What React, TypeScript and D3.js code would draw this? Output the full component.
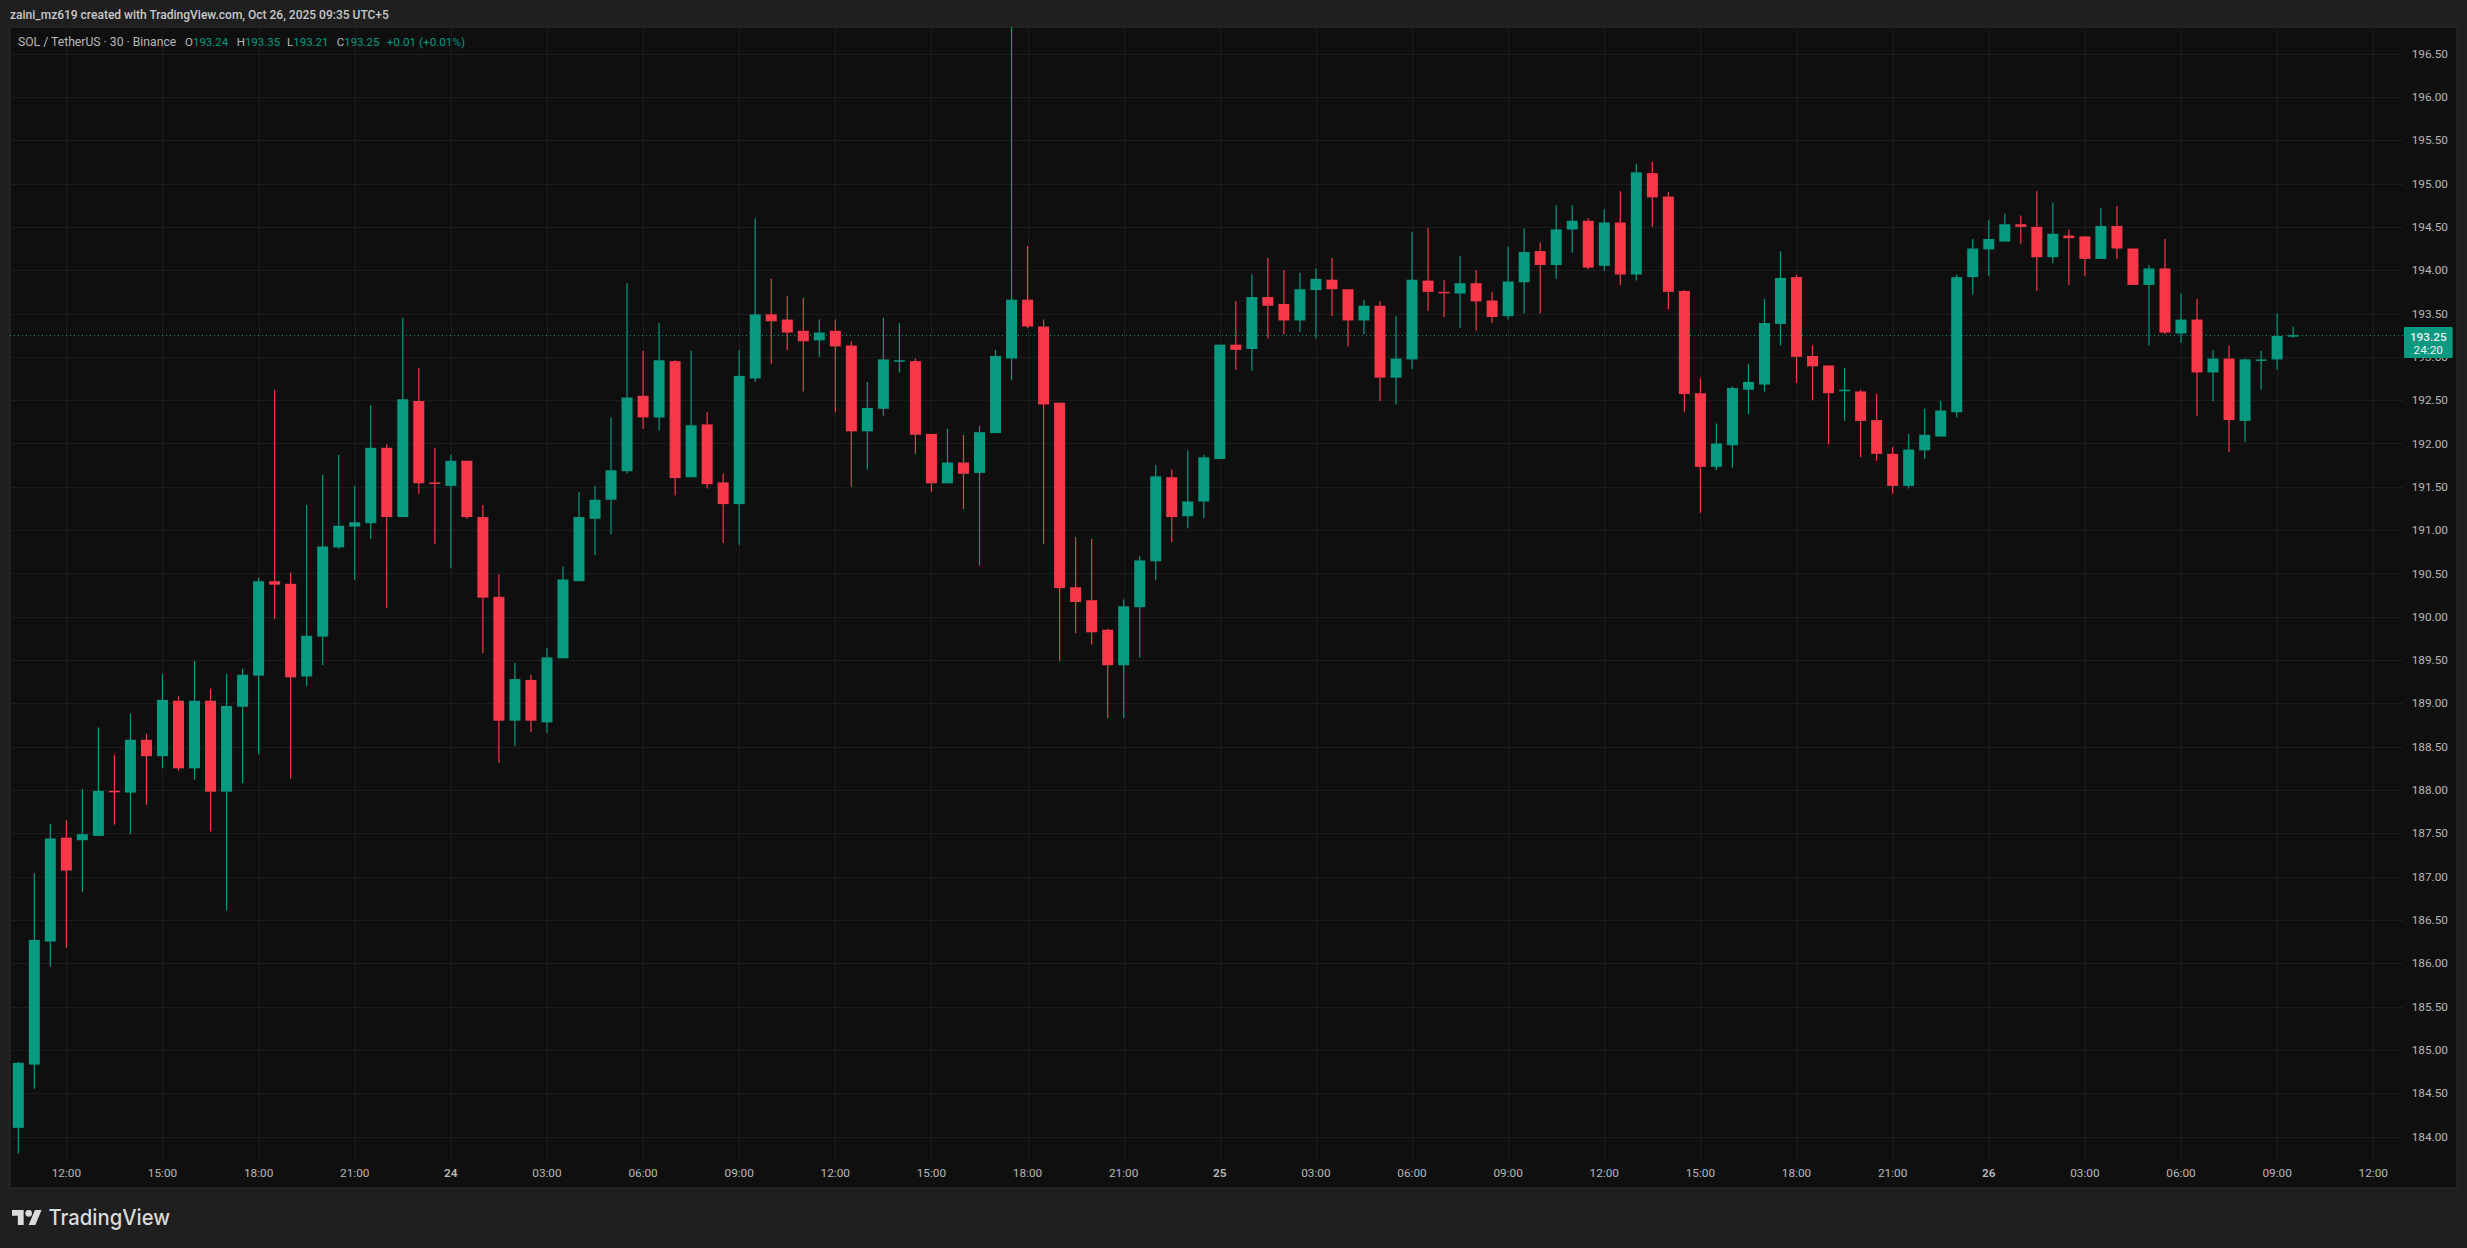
import React from "react";
import * as d3 from "d3";

const opens = [184.10,184.83,186.25,187.45,187.42,187.47,187.99,187.97,188.58,188.39,
189.03,188.25,189.03,187.98,188.96,189.32,190.41,190.38,189.31,189.77,
190.80,191.04,191.08,191.95,191.15,192.49,191.55,191.51,191.80,191.15,
190.23,188.80,189.27,188.78,189.52,190.41,191.13,191.35,191.68,192.55,
192.30,192.95,191.61,192.22,191.55,191.30,192.75,193.49,193.43,193.30,
193.19,193.30,193.13,192.14,192.40,192.95,192.95,192.11,191.54,191.78,
191.66,192.12,192.98,193.66,193.35,192.47,190.34,190.19,189.85,189.44,
190.11,190.64,191.61,191.16,191.33,191.82,193.14,193.09,193.69,193.61,
193.42,193.77,193.89,193.78,193.42,193.59,192.76,192.97,193.88,193.75,
193.73,193.85,193.65,193.47,193.86,194.22,194.06,194.47,194.57,194.05,
194.55,193.95,195.12,194.85,193.76,192.58,191.73,191.98,192.62,192.68,
193.38,193.92,193.01,192.90,192.61,192.60,192.27,191.88,191.51,191.92,
192.08,192.36,193.92,194.24,194.33,194.53,194.50,194.15,194.40,194.39,
194.13,194.51,194.25,193.83,194.02,193.27,193.43,192.82,192.98,192.26,
192.96,192.97,193.24];
const highs = [184.86,187.04,187.61,187.65,188.01,188.72,188.40,188.88,188.65,189.34,
189.08,189.49,189.17,189.34,189.40,190.45,192.62,190.51,191.29,191.64,
191.87,191.51,192.44,191.99,193.45,192.87,191.95,191.87,191.80,191.29,
190.49,189.47,189.33,189.64,190.58,191.44,191.51,192.30,193.85,193.07,
193.39,192.96,193.07,192.36,191.65,193.08,194.60,193.90,193.70,193.68,
193.43,193.43,193.18,192.71,193.45,193.39,192.98,192.11,192.17,192.10,
192.20,193.08,197.00,194.28,193.43,192.47,190.92,190.90,189.86,190.20,
190.70,191.75,191.70,191.92,191.87,193.14,193.64,193.95,194.14,194.00,
193.97,194.02,194.14,193.78,193.66,193.64,193.47,194.44,194.49,193.89,
194.16,194.00,193.75,194.27,194.48,194.32,194.75,194.75,194.60,194.70,
194.91,195.23,195.25,194.90,193.77,192.75,192.23,192.66,192.92,193.67,
194.22,193.95,193.13,192.90,192.87,192.62,192.57,191.96,192.11,192.40,
192.49,193.95,194.36,194.58,194.65,194.63,194.91,194.78,194.47,194.39,
194.72,194.74,194.25,194.06,194.36,193.73,193.67,193.08,193.13,192.98,
193.07,193.50,193.35];
const lows = [183.80,184.55,185.96,186.18,186.82,187.47,187.60,187.49,187.83,188.25,
188.22,188.12,187.52,186.61,188.08,188.41,189.97,188.13,189.20,189.44,
190.78,190.42,190.90,190.10,191.15,191.42,190.84,190.56,191.13,189.58,
188.31,188.51,188.67,188.66,189.52,190.41,190.71,190.95,191.65,192.17,
192.15,191.40,191.61,191.48,190.85,190.83,192.71,192.92,193.08,192.60,
193.00,192.36,191.50,191.70,192.32,192.82,191.88,191.44,191.54,191.24,
190.59,192.12,192.73,193.33,190.84,189.49,189.81,189.68,188.83,188.83,
189.53,190.42,190.86,191.02,191.14,191.82,192.85,192.84,193.21,193.26,
193.29,193.21,193.47,193.12,193.26,192.49,192.45,192.86,193.53,193.46,
193.33,193.30,193.39,193.43,193.50,193.50,193.90,194.20,194.01,193.99,
193.83,193.88,194.50,193.55,192.36,191.20,191.69,191.72,192.34,192.60,
193.13,192.70,192.50,191.99,192.26,191.84,191.80,191.42,191.48,191.82,
192.08,192.30,193.72,193.93,194.33,194.30,193.76,194.08,193.83,193.93,
194.13,194.13,193.83,193.13,193.26,193.16,192.32,192.49,191.90,192.02,
192.62,192.85,193.22];
const closes = [184.85,186.27,187.44,187.07,187.49,187.99,187.98,188.58,188.39,189.04,
188.25,189.03,187.98,188.97,189.33,190.41,190.37,189.30,189.78,190.81,
191.05,191.09,191.95,191.15,192.51,191.54,191.54,191.80,191.15,190.22,
188.80,189.28,188.80,189.53,190.43,191.15,191.35,191.69,192.53,192.30,
192.96,191.60,192.21,191.53,191.30,192.78,193.49,193.41,193.28,193.18,
193.28,193.12,192.14,192.41,192.97,192.96,192.10,191.54,191.78,191.65,
192.13,193.01,193.66,193.35,192.45,190.33,190.17,189.82,189.44,190.12,
190.65,191.62,191.15,191.33,191.84,193.14,193.08,193.69,193.59,193.42,
193.78,193.90,193.78,193.42,193.59,192.76,192.98,193.89,193.75,193.74,
193.85,193.64,193.46,193.87,194.21,194.06,194.47,194.57,194.03,194.55,
193.95,195.13,194.84,193.75,192.57,191.73,192.00,192.64,192.71,193.39,
193.91,193.00,192.89,192.58,192.62,192.26,191.88,191.51,191.93,192.10,
192.38,193.92,194.25,194.36,194.53,194.50,194.15,194.42,194.37,194.13,
194.51,194.25,193.83,194.02,193.28,193.43,192.82,192.98,192.27,192.97,
192.97,193.24,193.25];

const priceTicks = d3.range(0, 26).map((k) => 184 + k * 0.5);
const timeLabels = ["12:00","15:00","18:00","21:00","24","03:00","06:00","09:00","12:00","15:00","18:00","21:00","25","03:00","06:00","09:00","12:00","15:00","18:00","21:00","26","03:00","06:00","09:00","12:00"];
const timeBars = timeLabels.map((_, i) => 3 + i * 6);
const legendValues = [["O","193.24"],["H","193.35"],["L","193.21"],["C","193.25"]];
const legendOffsets = [185, 236.7, 287, 336.7];
const lastPrice = 193.25;

const GREEN = "#089981";
const RED = "#f63849";
const GRID = "#1c1c1c";
const TEXT = "#b8b8b8";
const FONT = "Roboto, 'Liberation Sans', sans-serif";

const W = 2467, H = 1248;
const L = 10, T = 27, R = 2457, B = 1188, PR = 2403, GB = 1160;

export default function App() {
  const x = d3.scaleLinear().domain([0, 142]).range([18.3, 18.3 + 142 * 16.02]);
  const y = d3.scaleLinear().domain([184, 193.5]).range([1136.5, 313.5]);
  const bw = 11;
  const snap = (v: number) => Math.round(v) + 0.5;
  return (
    <svg width={W} height={H} viewBox={`0 0 ${W} ${H}`} style={{ position: "absolute", left: 0, top: 0, display: "block" }} fontFamily={FONT}>
      <rect width={W} height={H} fill="#1f1f1f" />
      <rect x={L} y={T} width={R - L} height={B - T} fill="#0f0f0f" stroke="#2e2e2e" strokeWidth={1} />
      <defs>
        <clipPath id="plot"><rect x={L} y={T} width={PR - L} height={GB + 28 - T} /></clipPath>
      </defs>
      {priceTicks.map((p) => (
        <line key={p} x1={L} x2={PR} y1={snap(y(p))} y2={snap(y(p))} stroke={GRID} />
      ))}
      {timeBars.map((b) => (
        <line key={b} x1={snap(x(b))} x2={snap(x(b))} y1={T} y2={GB} stroke={GRID} />
      ))}
      <line x1={L} x2={PR} y1={snap(y(lastPrice))} y2={snap(y(lastPrice))} stroke={GREEN} strokeDasharray="1 3" />
      <g clipPath="url(#plot)">
        {closes.map((c, i) => {
          const o = opens[i];
          const col = c >= o ? GREEN : RED;
          const top = y(Math.max(o, c));
          const h = Math.max(1.5, Math.abs(y(o) - y(c)));
          return (
            <g key={i}>
              <line x1={x(i)} x2={x(i)} y1={y(highs[i])} y2={y(lows[i])} stroke={col} strokeWidth={1.2} />
              <rect x={x(i) - bw / 2} y={top} width={bw} height={h} fill={col} />
            </g>
          );
        })}
      </g>
      {priceTicks.map((p) => (
        <text key={p} x={2448} y={y(p)} dy="0.35em" textAnchor="end" fontSize={11.8} fill={TEXT}>{p.toFixed(2)}</text>
      ))}
      {timeLabels.map((t, i) => (
        <text key={i} x={x(timeBars[i])} y={1173} dy="0.35em" textAnchor="middle" fontSize={11.8} fontWeight={/:/.test(t) ? 400 : 600} fill={TEXT}>{t}</text>
      ))}
      <rect x={2404} y={327} width={48.7} height={31} fill={GREEN} rx={1} />
      <text x={2428.3} y={336.5} dy="0.35em" textAnchor="middle" fontSize={11.8} fontWeight={500} fill="#f0f0f0">{lastPrice.toFixed(2)}</text>
      <text x={2428.3} y={349.5} dy="0.35em" textAnchor="middle" fontSize={11.8} fill="#f0f0f0">24:20</text>

      <text x={10} y={15} dy="0.35em" fontSize={12} fontWeight={500} fill="#c8c8c8">zaini_mz619 created with TradingView.com, Oct 26, 2025 09:35 UTC+5</text>
      <text x={18} y={41.5} dy="0.35em" fontSize={12.2} fill={TEXT}>SOL / TetherUS · 30 · Binance</text>
      {legendValues.map(([k, v], i) => (
        <text key={k} x={legendOffsets[i]} y={41.5} dy="0.35em" fontSize={11.5} fill={TEXT}>{k}<tspan fill={GREEN}>{v}</tspan></text>
      ))}
      <text x={386.7} y={41.5} dy="0.35em" fontSize={11.7} fill={GREEN}>+0.01 (+0.01%)</text>

      <g transform="translate(12 1206.7) scale(0.8333)" fill="#d9dbdc">
        <path d="M14 22H7V11H0V4h14v18zM28 22h-8l7.5-18h8L28 22z" />
        <circle cx={20} cy={8} r={4} />
      </g>
      <text x={48.5} y={1225} fontSize={22} fontWeight={500} fontFamily="Inter, Lato, sans-serif" fill="#d9dbdc" textLength={121.5} lengthAdjust="spacingAndGlyphs">TradingView</text>
    </svg>
  );
}
